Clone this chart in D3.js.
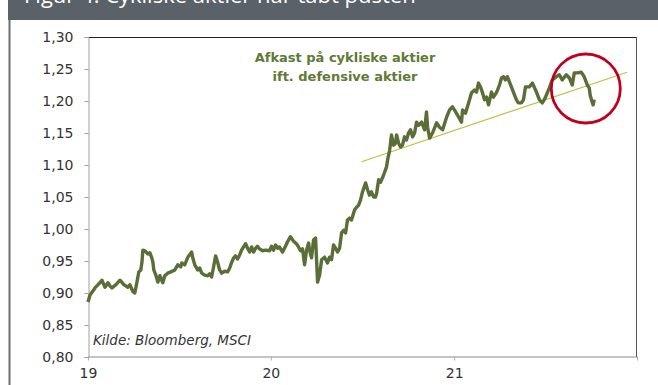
<!DOCTYPE html>
<html><head><meta charset="utf-8">
<script src="https://cdn.jsdelivr.net/npm/d3@7/dist/d3.min.js"></script>
<style>
html,body{margin:0;padding:0;background:#fff;}
svg{display:block;font-family:"DejaVu Sans",Verdana,sans-serif;}
</style></head>
<body>
<svg id="c" width="658" height="385"></svg>
<script>
// ---- data ----
const headerTitle = "Figur 4: Cykliske aktier har tabt pusten";
const yTickValues = [0.80,0.85,0.90,0.95,1.00,1.05,1.10,1.15,1.20,1.25,1.30];
const xTickYears = [2019,2020,2021,2022];
const xTickLabels = ["19","20","21",""];
// decimal-year positions of each observation
const obsYears = [
2019.000,2019.011,2019.027,2019.038,2019.055,2019.065,2019.076,2019.093,2019.109,2019.120,
2019.131,2019.153,2019.175,2019.196,2019.218,2019.229,2019.246,2019.256,2019.267,2019.278,
2019.289,2019.295,2019.300,2019.311,2019.327,2019.338,2019.349,2019.355,2019.360,2019.371,
2019.382,2019.393,2019.409,2019.420,2019.436,2019.453,2019.475,2019.491,2019.507,2019.513,
2019.529,2019.546,2019.567,2019.573,2019.584,2019.600,2019.611,2019.622,2019.638,2019.655,
2019.666,2019.676,2019.687,2019.698,2019.709,2019.720,2019.731,2019.747,2019.764,2019.775,
2019.786,2019.797,2019.807,2019.818,2019.829,2019.840,2019.851,2019.862,2019.873,2019.884,
2019.895,2019.906,2019.917,2019.927,2019.938,2019.955,2019.971,2019.993,2020.004,2020.015,
2020.026,2020.037,2020.047,2020.064,2020.080,2020.091,2020.107,2020.124,2020.140,2020.151,
2020.162,2020.173,2020.184,2020.195,2020.206,2020.211,2020.222,2020.233,2020.244,2020.255,
2020.266,2020.277,2020.293,2020.309,2020.320,2020.331,2020.342,2020.353,2020.364,2020.375,
2020.386,2020.397,2020.408,2020.418,2020.429,2020.440,2020.457,2020.468,2020.478,2020.489,
2020.500,2020.517,2020.528,2020.538,2020.549,2020.560,2020.571,2020.577,2020.588,2020.598,
2020.609,2020.620,2020.631,2020.637,2020.648,2020.653,2020.658,2020.669,2020.680,2020.686,
2020.697,2020.708,2020.718,2020.729,2020.740,2020.751,2020.762,2020.773,2020.784,2020.795,
2020.806,2020.822,2020.839,2020.849,2020.855,2020.866,2020.882,2020.904,2020.920,2020.937,
2020.959,2020.975,2020.991,2021.008,2021.024,2021.040,2021.046,2021.062,2021.084,2021.095,
2021.111,2021.122,2021.133,2021.144,2021.155,2021.166,2021.177,2021.188,2021.204,2021.215,
2021.231,2021.237,2021.248,2021.259,2021.270,2021.280,2021.291,2021.302,2021.313,2021.324,
2021.340,2021.351,2021.368,2021.379,2021.390,2021.411,2021.428,2021.450,2021.466,2021.482,
2021.493,2021.504,2021.520,2021.537,2021.559,2021.575,2021.591,2021.613,2021.630,2021.646,
2021.657,2021.673,2021.695,2021.711,2021.728,2021.739,2021.744,2021.755,2021.760,2021.766
];
// ratio: cyclical vs defensive equities
const ratioValues = [
0.886,0.897,0.903,0.908,0.913,0.916,0.920,0.909,0.916,0.911,
0.908,0.913,0.920,0.913,0.909,0.913,0.902,0.900,0.916,0.933,
0.936,0.948,0.967,0.966,0.961,0.963,0.955,0.948,0.936,0.928,
0.917,0.927,0.916,0.927,0.931,0.933,0.936,0.944,0.941,0.947,
0.944,0.956,0.964,0.955,0.944,0.936,0.939,0.931,0.928,0.927,
0.930,0.925,0.941,0.958,0.948,0.936,0.931,0.934,0.933,0.939,
0.948,0.955,0.958,0.953,0.959,0.967,0.972,0.977,0.970,0.964,
0.972,0.964,0.970,0.973,0.969,0.966,0.967,0.966,0.973,0.967,
0.975,0.970,0.972,0.964,0.973,0.980,0.988,0.981,0.977,0.972,
0.966,0.969,0.944,0.967,0.978,0.967,0.955,0.983,0.986,0.917,
0.928,0.952,0.956,0.947,0.956,0.952,0.975,0.970,0.964,0.970,
0.994,0.998,0.994,1.014,1.017,1.014,1.030,1.034,1.037,1.045,
1.058,1.072,1.061,1.053,1.058,1.050,1.050,1.056,1.077,1.073,
1.080,1.088,1.097,1.108,1.123,1.134,1.147,1.131,1.134,1.147,
1.134,1.128,1.131,1.144,1.139,1.150,1.155,1.144,1.150,1.167,
1.162,1.167,1.155,1.183,1.159,1.142,1.150,1.166,1.159,1.155,
1.175,1.186,1.191,1.183,1.175,1.167,1.186,1.181,1.202,1.213,
1.217,1.214,1.228,1.222,1.213,1.202,1.206,1.194,1.214,1.206,
1.213,1.217,1.225,1.236,1.238,1.233,1.238,1.230,1.222,1.214,
1.202,1.197,1.197,1.202,1.222,1.222,1.228,1.214,1.202,1.197,
1.202,1.209,1.220,1.233,1.238,1.241,1.233,1.241,1.236,1.225,
1.244,1.244,1.245,1.238,1.225,1.220,1.209,1.198,1.194,1.202
];
const trendYears = [2020.495, 2021.946];
const trendValues = [1.105, 1.245];
const circleCenter = [2021.720, 1.2195];
const annotationLines = ["Afkast på cykliske aktier","ift. defensive aktier"];
const sourceText = "Kilde: Bloomberg, MSCI";

// ---- helpers ----
function yearToDate(y){
  const yr = Math.floor(y);
  const s = Date.UTC(yr,0,1), e = Date.UTC(yr+1,0,1);
  return new Date(s + (y-yr)*(e-s));
}

const svg = d3.select("#c");
const W = 658, H = 385;
const m = {left:88, right:21, top:37, bottom:28};
const iw = W - m.left - m.right, ih = H - m.top - m.bottom;

// header bar (title text is cut by the top edge, as in the original)
svg.append("rect").attr("x",8).attr("y",0).attr("width",W-8).attr("height",20).attr("fill","#5a6169");
svg.append("text").attr("x",24).attr("y",3).attr("fill","#fff").attr("font-size",22)
  .style("font-family","'Open Sans',sans-serif").text(headerTitle);
// left border of panel
svg.append("line").attr("x1",9.5).attr("x2",9.5).attr("y1",20).attr("y2",H).attr("stroke","#6b6f73").attr("stroke-width",2);

const x = d3.scaleTime().domain([yearToDate(2019), yearToDate(2022)]).range([m.left, m.left+iw]);
const y = d3.scaleLinear().domain([0.80,1.30]).range([m.top+ih, m.top]);

// frame top/right
const g = svg.append("g");
g.append("line").attr("x1",m.left).attr("x2",m.left+iw).attr("y1",m.top+0.5).attr("y2",m.top+0.5).attr("stroke","#222");
g.append("line").attr("x1",m.left+iw-0.5).attr("x2",m.left+iw-0.5).attr("y1",m.top).attr("y2",m.top+ih).attr("stroke","#555");

// y axis
const yAxis = d3.axisLeft(y).tickValues(yTickValues).tickSize(4).tickPadding(11)
  .tickFormat(d => d3.format(".2f")(d).replace(".",","));
const ga = svg.append("g").attr("transform",`translate(${m.left+0.5},0)`).call(yAxis);
ga.select(".domain").attr("stroke","#a0a0a0");
ga.selectAll(".tick line").attr("stroke","#a0a0a0");
ga.selectAll("text").attr("fill","#333").attr("font-size",14).style("font-family","'DejaVu Sans',Verdana,sans-serif");

// x axis
const xAxis = d3.axisBottom(x).tickValues(xTickYears.map(yearToDate)).tickSize(4).tickSizeOuter(0).tickPadding(8)
  .tickFormat((d,i) => xTickLabels[i]);
const gx = svg.append("g").attr("transform",`translate(0,${m.top+ih-0.5})`).call(xAxis);
gx.select(".domain").attr("stroke","#8a8a8a");
gx.selectAll(".tick line").attr("stroke","#b0b0b0");
gx.selectAll("text").attr("fill","#333").attr("font-size",14).style("font-family","'DejaVu Sans',Verdana,sans-serif");

// trend line
svg.append("line")
  .attr("x1",x(yearToDate(trendYears[0]))).attr("y1",y(trendValues[0]))
  .attr("x2",x(yearToDate(trendYears[1]))).attr("y2",y(trendValues[1]))
  .attr("stroke","#b9c23f").attr("stroke-width",1.2);

// series
const data = obsYears.map((t,i)=>({d:yearToDate(t), v:ratioValues[i]}));
svg.append("path").datum(data)
  .attr("d", d3.line().x(d=>x(d.d)).y(d=>y(d.v)))
  .attr("fill","none").attr("stroke","#5b6e37").attr("stroke-width",3.4).attr("stroke-linejoin","round");

// red circle
svg.append("circle").attr("cx",x(yearToDate(circleCenter[0]))).attr("cy",y(circleCenter[1]))
  .attr("r",34.5).attr("fill","none").attr("stroke","#c0001e").attr("stroke-width",2.8);

// annotation
const ann = svg.append("text").attr("text-anchor","middle").attr("fill","#5e7a35")
  .attr("font-size",13).attr("font-weight","bold").style("font-family","'DejaVu Sans',Verdana,sans-serif");
annotationLines.forEach((s,i)=> ann.append("tspan").attr("x",345).attr("y",62+i*19).text(s));

// source
svg.append("text").attr("x",93).attr("y",345).attr("fill","#333").attr("font-size",13.5)
  .attr("font-style","italic").style("font-family","'DejaVu Sans',Verdana,sans-serif").text(sourceText);
</script>
</body></html>
